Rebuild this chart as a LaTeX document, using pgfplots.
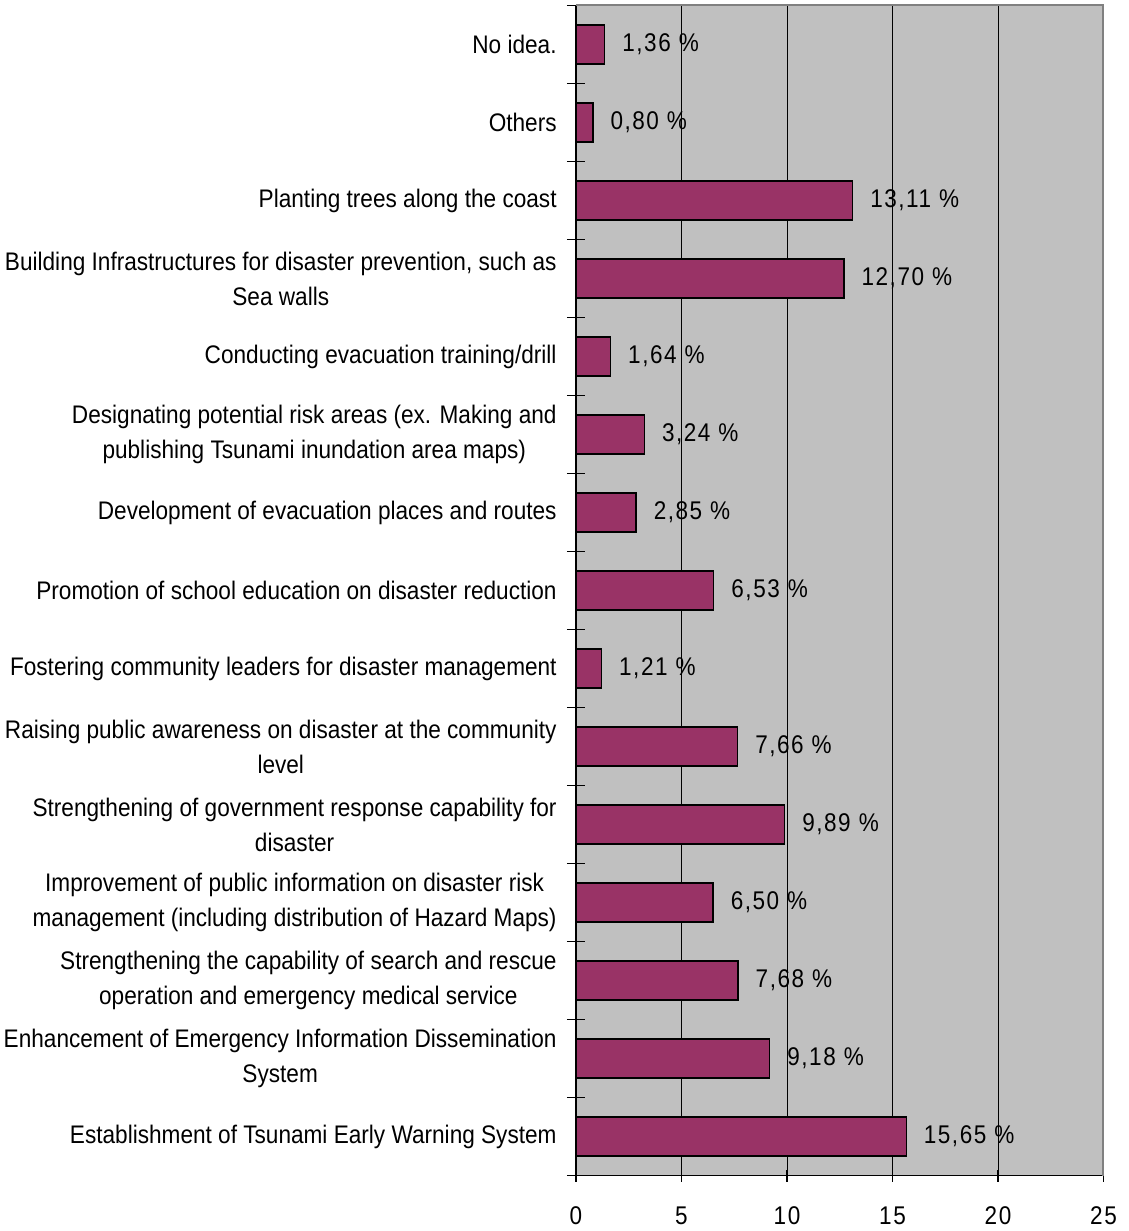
\documentclass[border=0pt]{standalone}
\usepackage{pgfplots}
\usepackage{pgfplotstable}
\pgfplotsset{compat=1.18}
\usepackage{fontspec}
\setmainfont{Liberation Sans}
\newfontfamily\catfont[FakeStretch=0.89]{Liberation Sans}
\newfontfamily\valfont[FakeStretch=0.88, LetterSpace=6]{Liberation Sans}
\definecolor{bggray}{HTML}{C0C0C0}
\definecolor{barcol}{HTML}{993366}
\definecolor{framegray}{HTML}{808080}

\pgfplotstableread{
y x lab
0 15.65 15,65
1 9.18 9,18
2 7.68 7,68
3 6.50 6,50
4 9.89 9,89
5 7.66 7,66
6 1.21 1,21
7 6.53 6,53
8 2.85 2,85
9 3.24 3,24
10 1.64 1,64
11 12.70 12,70
12 13.11 13,11
13 0.80 0,80
14 1.36 1,36
}\data

\begin{document}
\begin{tikzpicture}
\begin{axis}[
  at={(0,0)}, anchor=south west,
  scale only axis, width=263.75pt, height=585pt,
  xbar, bar width=0.5,
  xmin=0, xmax=25, ymin=-0.5, ymax=14.5,
  axis x line*=bottom, axis y line*=left,
  axis line style={black, line width=0.6pt},
  axis background/.style={fill=bggray},
  xtick={0,5,...,25},
  xmajorgrids, grid style={black, line width=0.45pt},
  ytick={0,...,14},
  minor ytick={-0.5,0.5,...,14.5},
  tick align=center,
  major tick length=6pt, minor tick length=9pt,
  major y tick style={draw=none},
  tick style={black, line width=0.6pt},
  yticklabels={
    {Establishment of Tsunami Early Warning System},
    {Enhancement of Emergency Information Dissemination\\System},
    {Strengthening the capability of search and rescue\\operation and emergency medical service},
    {Improvement of public information on disaster risk\\management (including distribution of Hazard Maps)},
    {Strengthening of government response capability for\\disaster},
    {Raising public awareness on disaster at the community\\level},
    {Fostering community leaders for disaster management},
    {Promotion of school education on disaster reduction},
    {Development of evacuation places and routes},
    {Designating potential risk areas (ex. Making and\\publishing Tsunami inundation area maps)},
    {Conducting evacuation training/drill},
    {Building Infrastructures for disaster prevention, such as\\Sea walls},
    {Planting trees along the coast},
    {Others},
    {No idea.}
  },
  yticklabel style={font=\catfont\fontsize{12.7}{17.5}\selectfont, align=center, anchor=east, inner sep=0pt},
  yticklabel shift=6.5pt,
  xticklabel style={font=\valfont\fontsize{12.8}{15}\selectfont, anchor=north, inner sep=0pt},
  xticklabel shift=12.5pt,
  /pgf/number format/assume math mode=true,
  point meta=explicit symbolic,
  nodes near coords={\pgfplotspointmeta\hspace{4pt}\%},
  every node near coord/.append style={font=\valfont\fontsize{12.8}{15}\selectfont, anchor=west, inner sep=0pt, xshift=8.5pt, black},
  clip=false,
]
\addplot[fill=barcol, draw=black, line width=0.65pt] table[x=x, y=y, meta=lab] {\data};
\draw[framegray, line width=1pt] (rel axis cs:0,1) -- (rel axis cs:1,1) -- (rel axis cs:1,0);
\end{axis}
\pgfresetboundingbox
\useasboundingbox (-288pt,-27.75pt) rectangle (276.5pt,587.75pt);
\end{tikzpicture}
\end{document}
